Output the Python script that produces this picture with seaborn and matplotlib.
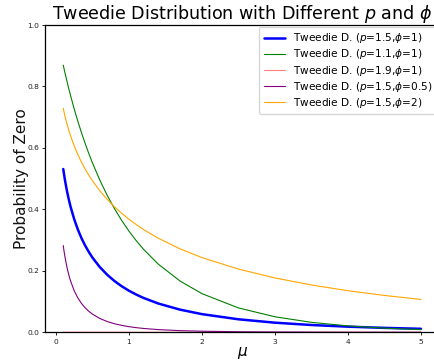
import numpy as np
import pandas as pd
import seaborn as sns
import matplotlib
matplotlib.use("Agg")
import matplotlib.pyplot as plt

# mean values (x axis)
mu = [0.1, 0.11, 0.125, 0.15, 0.175, 0.2, 0.25, 0.3, 0.35, 0.4, 0.45, 0.5, 0.6, 0.7,
      0.8, 0.9, 1.0, 1.1, 1.2, 1.4, 1.7, 2.0, 2.5, 3.0, 3.5, 4.0, 4.5, 5.0]

# probability of zero
p15_phi1 = [0.5313, 0.5151, 0.4931, 0.4609, 0.4331, 0.4088, 0.3679, 0.3344, 0.3062,
            0.2823, 0.2614, 0.2431, 0.2124, 0.1877, 0.1671, 0.1500, 0.1353, 0.1228,
            0.1118, 0.0938, 0.0737, 0.0591, 0.0423, 0.0313, 0.0237, 0.0183, 0.0144,
            0.0114]
p11_phi1 = [0.8695, 0.8586, 0.8428, 0.8175, 0.7934, 0.7703, 0.7268, 0.6866, 0.6493,
            0.6144, 0.5818, 0.5513, 0.4958, 0.4466, 0.4029, 0.3640, 0.3292, 0.2980,
            0.2700, 0.2222, 0.1668, 0.1258, 0.0793, 0.0505, 0.0324, 0.0209, 0.0135,
            0.0088]
p19_phi1 = [0.0004, 0.0004, 0.0003, 0.0003, 0.0003, 0.0002, 0.0002, 0.0002, 0.0001,
            0.0001, 0.0001, 0.0001, 0.0001, 0.0001, 0.0001, 0.0001, 0.0000, 0.0000,
            0.0000, 0.0000, 0.0000, 0.0000, 0.0000, 0.0000, 0.0000, 0.0000, 0.0000,
            0.0000]
p15_phi05 = [0.2823, 0.2653, 0.2431, 0.2124, 0.1876, 0.1671, 0.1353, 0.1118, 0.0938,
             0.0797, 0.0683, 0.0591, 0.0451, 0.0352, 0.0279, 0.0225, 0.0183, 0.0151,
             0.0125, 0.0088, 0.0054, 0.0035, 0.0018, 0.0010, 0.0006, 0.0003, 0.0002,
             0.0001]
p15_phi2 = [0.7289, 0.7177, 0.7022, 0.6789, 0.6581, 0.6394, 0.6065, 0.5783, 0.5534,
            0.5313, 0.5113, 0.4931, 0.4609, 0.4332, 0.4088, 0.3873, 0.3679, 0.3504,
            0.3344, 0.3063, 0.2715, 0.2431, 0.2057, 0.1769, 0.1540, 0.1353, 0.1199,
            0.1069]

labels = [r"Tweedie D. ($p$=1.5,$\phi$=1)",
          r"Tweedie D. ($p$=1.1,$\phi$=1)",
          r"Tweedie D. ($p$=1.9,$\phi$=1)",
          r"Tweedie D. ($p$=1.5,$\phi$=0.5)",
          r"Tweedie D. ($p$=1.5,$\phi$=2)"]
series = [p15_phi1, p11_phi1, p19_phi1, p15_phi05, p15_phi2]
colors = ["blue", "green", "red", "purple", "orange"]
widths = [1.8, 0.8, 0.8, 0.8, 0.8]
alphas = [1, 1, 0.5, 1, 1]

sns.set_style("ticks")
plt.rcParams["font.family"] = ["DejaVu Sans"]
plt.rcParams["text.color"] = "black"
plt.rcParams["axes.labelcolor"] = "black"

fig = plt.figure(figsize=(4.35, 3.61), dpi=100)
ax = fig.add_axes([0.1043, 0.0795, 0.9046, 0.8512])

for lab, ys, c, w, a in zip(labels, series, colors, widths, alphas):
    df = pd.DataFrame({"mu": mu, "p0": ys})
    sns.lineplot(data=df, x="mu", y="p0", color=c, linewidth=w, alpha=a,
                 label=lab, ax=ax)

ax.set_ylim(0, 1.0)
ax.set_xlim(-0.145, 5.245)
ax.set_xticks([0, 1, 2, 3, 4, 5])
ax.set_yticks([0.0, 0.2, 0.4, 0.6, 0.8, 1.0])
ax.tick_params(labelsize=5.4, length=2.5, width=0.7, pad=2, colors="#222222")
for s in ax.spines.values():
    s.set_color("black")
    s.set_linewidth(0.9)

ax.set_title(r"Tweedie Distribution with Different $p$ and $\phi$", fontsize=12.6,
             pad=3, color="black")
ax.set_xlabel(r"$\mu$", fontsize=11, labelpad=0, color="black")
ax.set_ylabel("Probability of Zero", fontsize=11, labelpad=-1, color="#111111")

leg = ax.legend(loc="upper right", fontsize=7.6, frameon=True, fancybox=True,
                borderaxespad=0.2, handlelength=2.0, labelspacing=0.2)
leg.get_frame().set_edgecolor("#cccccc")
for t in leg.get_texts():
    t.set_color("black")

fig.savefig("out.png", dpi=100)
